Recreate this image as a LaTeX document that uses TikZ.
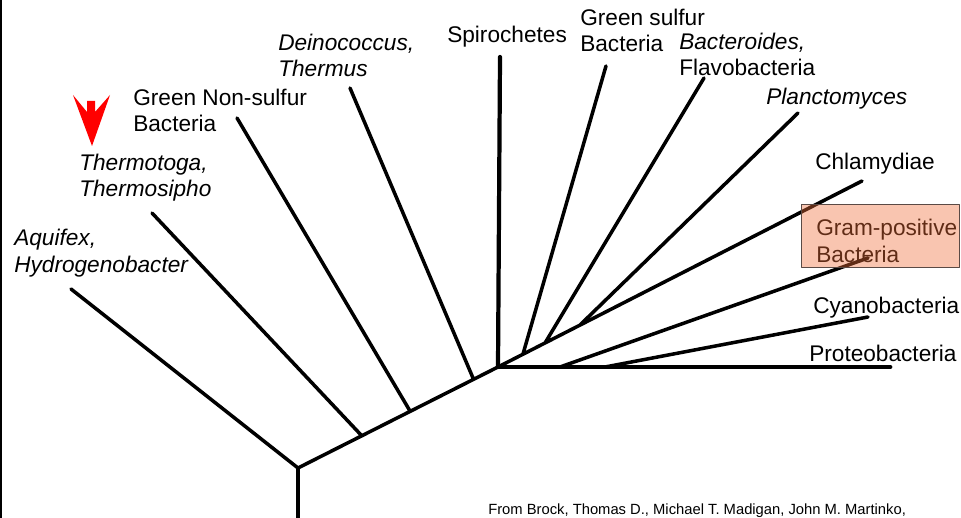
\documentclass[tikz,border=0pt]{standalone}
\usepackage{fontspec}
\setmainfont{Liberation Sans}
\definecolor{gramfill}{HTML}{F06E39}
\definecolor{gramedge}{HTML}{5A4A45}
\begin{document}
\begin{tikzpicture}[x=0.025cm, y=-0.025cm, line join=round, line cap=round,
	font=\fontsize{16.1}{18.5}\selectfont,
	branch/.style={line width=2.5pt},
	taxon/.style={anchor=base west, inner sep=0pt, align=left}]
	\useasboundingbox (0,0) rectangle (961,518);
	\draw[line width=0.8pt] (1,0) -- (1,518);
	% junctions along the trunk
	\coordinate (base) at (298,518); \coordinate (root) at (298,468);
	\coordinate (j1) at (362,436); \coordinate (j2) at (410,411);
	\coordinate (j3) at (473,378); \coordinate (hub) at (498,367);
	\coordinate (jgs) at (523,354); \coordinate (jbac) at (545,343); \coordinate (jpla) at (580,325);
	\coordinate (jgp) at (560,367); \coordinate (jcya) at (605,367);
	% free ends of the branches
	\coordinate (taqu) at (71,289); \coordinate (tthe) at (152,213);
	\coordinate (tgns) at (237,118); \coordinate (tdei) at (350,88);
	\coordinate (tspi) at (500,57); \coordinate (tgs) at (606,66);
	\coordinate (tbac) at (704,78); \coordinate (tpla) at (798,113);
	\coordinate (tchl) at (862,181); \coordinate (tgp) at (868,258);
	\coordinate (tcya) at (868,317); \coordinate (tpro) at (890,367);
	\draw[line width=3pt] (base) -- (root);
	\draw[branch] (root) -- (hub) (root) -- (taqu) (j1) -- (tthe) (j2) -- (tgns) (j3) -- (tdei);
	\draw[line width=3pt] (hub) -- (tspi);
	\draw[branch] (hub) -- (tchl) (jgs) -- (tgs) (jbac) -- (tbac) (jpla) -- (tpla);
	\draw[branch] (jgp) -- (tgp) (jcya) -- (tcya);
	\draw[line width=3.4pt] (hub) -- (tpro);
	% labels (base = last line)
	\node[taxon] (aquifex) at (14,272) {\itshape Aquifex,\\\itshape Hydrogenobacter};
	\node[taxon] (thermotoga) at (79,197) {\itshape Thermotoga,\\\itshape Thermosipho};
	\node[taxon] (greennon) at (133,132) {Green Non-sulfur\\Bacteria};
	\node[taxon] (deino) at (278,77) {\itshape Deinococcus,\\\itshape Thermus};
	\node[taxon] (spiro) at (447,43) {Spirochetes};
	\node[taxon] (greensul) at (580,52) {Green sulfur\\Bacteria};
	\node[taxon] (bactero) at (679,76) {\itshape Bacteroides,\\Flavobacteria};
	\node[taxon] (plancto) at (766,105) {\itshape Planctomyces};
	\node[taxon] (chlamy) at (815,170) {Chlamydiae};
	\node[taxon] (grampos) at (816,262) {Gram-positive\\Bacteria};
	\node[taxon] (cyano) at (813,313) {Cyanobacteria};
	\node[taxon] (proteo) at (809,361) {Proteobacteria};
	\fill[gramfill, fill opacity=0.4] (801,204) rectangle (959,267);
	\draw[gramedge, line width=0.7pt] (801,204) rectangle (959,267);
	% marker above Thermotoga
	\fill[red] (73,95) -- (87,112) -- (87,101) -- (95,101) -- (95,112) -- (110,95) -- (92,146) -- cycle;
	\node[taxon, font=\fontsize{10.5}{12}\selectfont] (source) at (488,514) {From Brock, Thomas D., Michael T. Madigan, John M. Martinko,};
\end{tikzpicture}
\end{document}
